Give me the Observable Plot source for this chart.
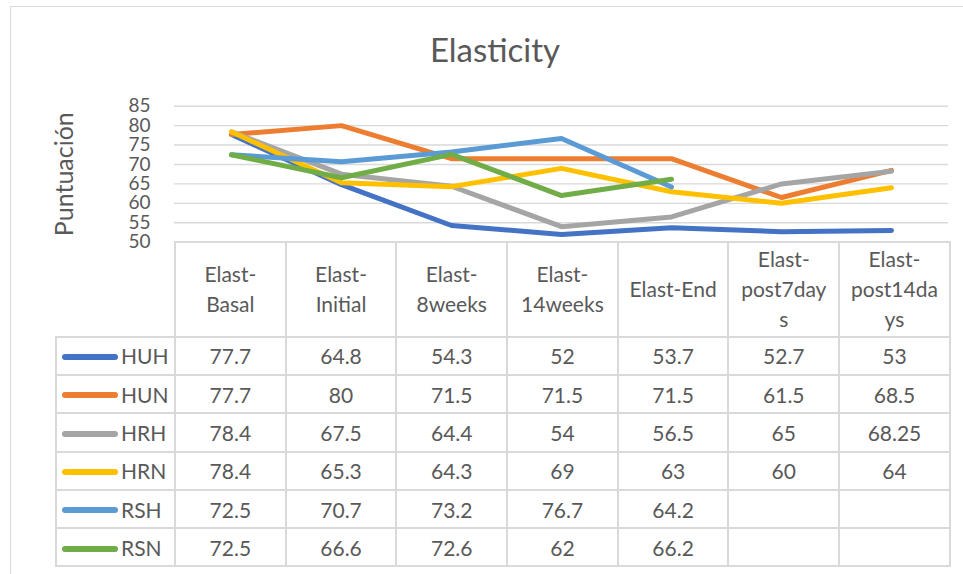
<!DOCTYPE html>
<html>
<head>
<meta charset="utf-8">
<script src="https://cdn.jsdelivr.net/npm/d3@7"></script>
<script src="https://cdn.jsdelivr.net/npm/@observablehq/plot@0.6"></script>
<style>
  html, body { margin: 0; padding: 0; background: #fff; }
  #chart { position: relative; width: 963px; height: 574px; overflow: hidden; font-family: Lato, "Open Sans", sans-serif; color: #595959; }
  #frame { position: absolute; left: 10px; top: 6px; width: 1000px; height: 620px; border: 1.5px solid #d9d9d9; }
  #title { position: absolute; left: 11px; width: 968px; top: 33px; text-align: center; font-size: 33px; line-height: 33px; }
  #plot { position: absolute; left: 0; top: 90px; }
  #plot svg { overflow: visible; }
  #table { position: absolute; left: 55px; top: 240.7px; border-collapse: collapse; table-layout: fixed; width: 894px; font-size: 21px; }
  #table td { border: 2px solid #d9d9d9; padding: 0; text-align: center; vertical-align: middle; }
  #table tr.head td { height: 93px; white-space: pre-line; line-height: 30px; }
  #table tr.head td.blank { border-top: none; border-left: none; }
  #table tr.row td { height: 36.3px; }
  #table td.key { text-align: left; white-space: nowrap; }
  .swatch { display: inline-block; width: 56px; height: 6px; border-radius: 3px; vertical-align: middle; margin: 0 3px 0 5px; position: relative; top: -2px; }
</style>
</head>
<body>
<div id="chart">
  <div id="frame"></div>
  <div id="title">Elasticity</div>
  <div id="plot"></div>
  <table id="table"></table>
</div>
<script>
// Measurement points along the x axis
const categories = ["Elast-Basal", "Elast-Initial", "Elast-8weeks", "Elast-14weeks", "Elast-End", "Elast-post7days", "Elast-post14days"];
// How each category name wraps in the data table header
const headerLabels = ["Elast-\nBasal", "Elast-\nInitial", "Elast-\n8weeks", "Elast-\n14weeks", "Elast-End", "Elast-\npost7day\ns", "Elast-\npost14da\nys"];

// Scores per group (null = not measured)
const HUH = [77.7, 64.8, 54.3, 52, 53.7, 52.7, 53];
const HUN = [77.7, 80, 71.5, 71.5, 71.5, 61.5, 68.5];
const HRH = [78.4, 67.5, 64.4, 54, 56.5, 65, 68.25];
const HRN = [78.4, 65.3, 64.3, 69, 63, 60, 64];
const RSH = [72.5, 70.7, 73.2, 76.7, 64.2, null, null];
const RSN = [72.5, 66.6, 72.6, 62, 66.2, null, null];

const seriesNames = ["HUH", "HUN", "HRH", "HRN", "RSH", "RSN"];
const seriesValues = [HUH, HUN, HRH, HRN, RSH, RSN];
const seriesColors = ["#4472C4", "#ED7D31", "#A5A5A5", "#FFC000", "#5B9BD5", "#70AD47"];

const yTicks = [50, 55, 60, 65, 70, 75, 80, 85];

// Long-form rows for the line mark
const points = seriesNames.flatMap((name, s) =>
  categories.map((cat, i) => ({series: name, category: cat, value: seriesValues[s][i]}))
);

const chart = Plot.plot({
  width: 963,
  height: 160,
  marginLeft: 174,
  marginRight: 15,
  marginTop: 15.7,
  marginBottom: 8.3,
  style: {fontFamily: "Lato, 'Open Sans', sans-serif", color: "#595959", background: "transparent", overflow: "visible"},
  x: {type: "point", domain: categories, padding: 0.5, axis: null},
  y: {domain: [50, 85]},
  color: {domain: seriesNames, range: seriesColors},
  marks: [
    Plot.ruleY(yTicks, {stroke: "#d9d9d9", strokeWidth: 1.4}),
    Plot.axisY({
      ticks: yTicks,
      tickSize: 0,
      tickPadding: 24,
      fontSize: 19,
      fill: "#595959",
      label: "Puntuación",
      labelArrow: "none",
      labelAnchor: "center",
      labelOffset: 119
    }),
    Plot.line(points, {
      x: "category",
      y: "value",
      z: "series",
      stroke: "series",
      strokeWidth: 5,
      strokeLinecap: "round",
      strokeLinejoin: "round"
    })
  ]
});
// larger axis title than tick labels
d3.select(chart).selectAll("g[aria-label='y-axis label'] text").attr("font-size", 25);
document.getElementById("plot").appendChild(chart);

// Data table under the plot
const table = d3.select("#table");
const colgroup = table.append("colgroup");
colgroup.append("col").style("width", "119px");
categories.forEach(() => colgroup.append("col").style("width", "110.7px"));

const head = table.append("tr").attr("class", "head");
head.append("td").attr("class", "blank");
headerLabels.forEach(t => head.append("td").text(t));

seriesNames.forEach((name, s) => {
  const tr = table.append("tr").attr("class", "row");
  const key = tr.append("td").attr("class", "key");
  key.append("span").attr("class", "swatch").style("background", seriesColors[s]);
  key.append("span").text(name);
  seriesValues[s].forEach(v => tr.append("td").text(v == null ? "" : String(v)));
});
</script>
</body>
</html>
